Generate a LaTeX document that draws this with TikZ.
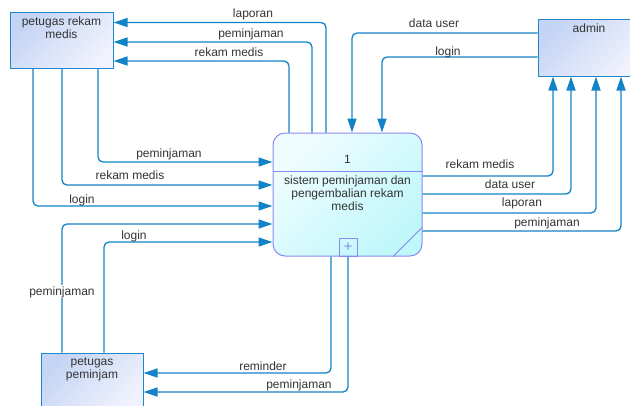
\documentclass[tikz,border=0pt]{standalone}
\usepackage{fontspec}
\setmainfont{Liberation Sans}
\usetikzlibrary{calc, arrows.meta}
\definecolor{flowblue}{HTML}{1283C6}
\definecolor{entborder}{HTML}{2088C8}
\definecolor{enttop}{HTML}{C4D4F4}
\definecolor{entbot}{HTML}{F0F2FD}
\definecolor{procborder}{HTML}{8A8AF0}
\definecolor{proctop}{HTML}{F0FDFF}
\definecolor{procbot}{HTML}{BFF7FB}
\definecolor{labelgray}{HTML}{333333}

\begin{document}
\begin{tikzpicture}[x=1pt, y=-1pt, font=\fontsize{12}{13}\selectfont,
	entity/.style={draw=entborder, line width=1pt, shade, top color=enttop, bottom color=entbot, shading angle=45, minimum width=102pt, minimum height=56pt, inner sep=0},
	etext/.style={anchor=north, align=center, inner sep=0, yshift=-5pt, text=labelgray},
	process/.style={draw=procborder, line width=1pt, rounded corners=12pt, shade, top color=proctop, bottom color=procbot, shading angle=45, minimum width=149pt, minimum height=123pt, inner sep=0},
	procline/.style={draw=procborder, line width=1pt},
	flow/.style={draw=flowblue, line width=1.3pt, rounded corners=5pt, -{Triangle[length=14pt, width=9pt]}},
	lbl/.style={anchor=base, text=labelgray, inner sep=1pt}]
	\useasboundingbox (0,0) rectangle (630,405);

	\node (prm) [entity, minimum width=103pt, label={[etext]north:petugas rekam\\medis}] at (61.5,40) {};
	\node (adm) [entity, minimum height=57pt, label={[etext]north:admin}] at (589,47.5) {};
	\node (pp) [entity, label={[etext]north:petugas\\peminjam}] at (92,381) {};
	\node (proc) [process] at (347.5,194.5) {};

	\draw[procline] (proc.west |- 0,171) -- (proc.east |- 0,171);
	\draw[procline] (proc.east |- 0,227) -- (proc.south -| 393,0);
	\node (plus) [procline, minimum size=18pt, inner sep=0, text=procborder, font=\fontsize{15}{15}\selectfont] at (348,247) {+};
	\node (pnum) [anchor=base, text=labelgray] at (347.5,163.3) {1};
	\node (ptext) [anchor=north, align=center, inner sep=0, text=labelgray] at (347.5,175.5) {sistem peminjaman dan\\pengembalian rekam\\medis};

	\draw[flow] (proc.north -| 326,0) |- (prm.east |- 0,22.5);
	\draw[flow] (proc.north -| 312,0) |- (prm.east |- 0,42);
	\draw[flow] (proc.north -| 289,0) |- (prm.east |- 0,61);

	\draw[flow] (prm.south -| 98,0) |- (proc.west |- 0,162);
	\draw[flow] (prm.south -| 62,0) |- (proc.west |- 0,185);
	\draw[flow] (prm.south -| 33,0) |- (proc.west |- 0,206);

	\draw[flow] (adm.west |- 0,33) -| (proc.north -| 352,0);
	\draw[flow] (adm.west |- 0,57) -| (proc.north -| 382,0);

	\draw[flow] (proc.east |- 0,176) -| (adm.south -| 553,0);
	\draw[flow] (proc.east |- 0,194) -| (adm.south -| 571,0);
	\draw[flow] (proc.east |- 0,213) -| (adm.south -| 596,0);
	\draw[flow] (proc.east |- 0,231) -| (adm.south -| 621,0);

	\draw[flow] (pp.north -| 62,0) |- (proc.west |- 0,224);
	\draw[flow] (pp.north -| 104,0) |- (proc.west |- 0,242);

	\draw[flow] (proc.south -| 331,0) |- (pp.east |- 0,373);
	\draw[flow] (plus.south) |- (pp.east |- 0,392);

	\node (l-lap1) [lbl] at (253,17.5) {laporan};
	\node (l-pem1) [lbl] at (251,37) {peminjaman};
	\node (l-rm1) [lbl] at (229,56) {rekam medis};
	\node (l-du1) [lbl] at (434,27.5) {data user};
	\node (l-log1) [lbl] at (448,55) {login};
	\node (l-rm2) [lbl] at (480,168) {rekam medis};
	\node (l-du2) [lbl] at (510,188) {data user};
	\node (l-lap2) [lbl] at (522,206.7) {laporan};
	\node (l-pem2) [lbl] at (547,226) {peminjaman};
	\node (l-pem3) [lbl] at (169,157.3) {peminjaman};
	\node (l-rm3) [lbl] at (130,179.3) {rekam medis};
	\node (l-log2) [lbl] at (82,203.3) {login};
	\node (l-log3) [lbl] at (134,239.3) {login};
	\node (l-pem4) [lbl, fill=white] at (62,295) {peminjaman};
	\node (l-rem) [lbl] at (263,370) {reminder};
	\node (l-pem5) [lbl] at (299,388.3) {peminjaman};
\end{tikzpicture}
\end{document}
